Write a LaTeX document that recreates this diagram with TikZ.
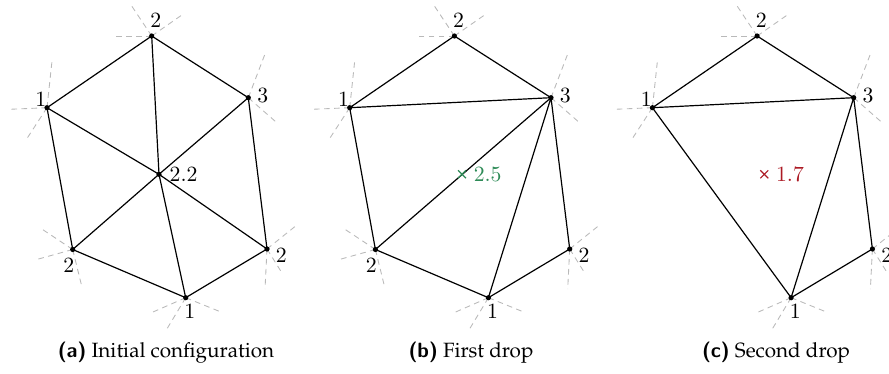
\documentclass[tikz,border=0pt]{standalone}
\usepackage[T1,TU]{fontenc}
\usepackage{tikz}
\usetikzlibrary{positioning,shapes.misc}
\definecolor{dropgreen}{RGB}{46,139,87}
\definecolor{dropred}{RGB}{172,26,36}
\newcommand{\capfont}{\fontencoding{T1}\fontfamily{ppl}\fontsize{9.5}{11}\selectfont}
\newcommand{\subtag}[1]{{\fontencoding{TU}\fontfamily{lmss}\bfseries\selectfont(#1)}}
% cone vertex: name, position, label, label offset, dashed rays
\newcommand{\conevertex}[5]{%
 \coordinate (#1) at #2;
 \foreach \r in {#5} \draw[ray] (#1) -- ++\r;
 \fill (#1) circle (1.2pt);
 \node[lbl] (#1l) at ([shift={#4}]#1) {#3};
}
% the outer vertices kept by every configuration
\newcommand{\outerring}[1]{%
 \conevertex{#1T}{(151.7,36)}{2}{(4.1,-15.7)}{(-39,0),(-20,-30),(31.6,-22)}
 \conevertex{#1L}{(47,107.7)}{1}{(-6.2,-8)}{(5.3,-49.4),(-37.7,1.6),(-21,32.3)}
 \conevertex{#1R}{(248.3,97.7)}{3}{(14.4,-2.4)}{(16.7,-43.7),(30,26.3)}
 \conevertex{#1BR}{(267,249)}{2}{(14.3,6.3)}{(28,-22.5),(-2,40),(15,24)}
 \conevertex{#1B}{(185.7,297.7)}{1}{(4.1,13.6)}{(-35.7,15.6),(-19,31.6),(36,14.6)}
}
\newcommand{\lowleft}[1]{%
 \conevertex{#1BL}{(72.7,249.5)}{2}{(-4,15.7)}{(-32.7,-21.7),(-36,10),(9.5,38.5)}
}
\tikzset{
 edge/.style={line width=0.55pt},
 ray/.style={gray!55,dash pattern=on 2.6pt off 2pt,line width=0.4pt},
 lbl/.style={inner sep=0pt,font=\fontsize{10}{12}\selectfont},
 removed/.style={cross out,draw,line width=0.55pt,minimum size=3.1pt,inner sep=0pt},
 subcap/.style={anchor=base,inner sep=0pt,font=\capfont},
}

\begin{document}
\begin{tikzpicture}[x=0.46pt,y=-0.46pt]
 \useasboundingbox (0,0) rectangle (889,374);
 % (a) initial configuration
 \outerring{a}
 \lowleft{a}
 \coordinate (aC) at (159,174.3);
 \fill (aC) circle (1.2pt);
 \node[lbl,right=4.7pt] (aCl) at (aC) {2.2};
 \draw[edge] (aT)--(aR)--(aBR)--(aB)--(aBL)--(aL)--cycle;
 \foreach \v in {aT,aR,aBR,aB,aBL,aL} \draw[edge] (aC)--(\v);
 \node[subcap] (capa) at (166,357) {\subtag{a} Initial configuration};
 % (b) first drop
 \begin{scope}[shift={(302.7,0)}]
 \outerring{b}
 \lowleft{b}
 \draw[edge] (bT)--(bL) (bT)--(bR) (bL)--(bR) (bL)--(bBL);
 \draw[edge] (bBL)--(bR) (bBL)--(bB) (bB)--(bR) (bR)--(bBR) (bBR)--(bB);
 \node[removed,dropgreen] (bx) at (159.3,174.3) {};
 \node[lbl,text=dropgreen,right=3.4pt of bx] (bxl) {2.5};
 \node[subcap] (capb) at (168.3,357) {\subtag{b} First drop};
 \end{scope}
 % (c) second drop
 \begin{scope}[shift={(605.4,0)}]
 \outerring{c}
 \draw[edge] (cT)--(cL) (cT)--(cR) (cL)--(cR) (cL)--(cB);
 \draw[edge] (cB)--(cR) (cR)--(cBR) (cBR)--(cB);
 \node[removed,dropred] (cx) at (158.9,174.3) {};
 \node[lbl,text=dropred,right=3.4pt of cx] (cxl) {1.7};
 \node[subcap] (capc) at (170.6,357) {\subtag{c} Second drop};
 \end{scope}
\end{tikzpicture}
\end{document}
